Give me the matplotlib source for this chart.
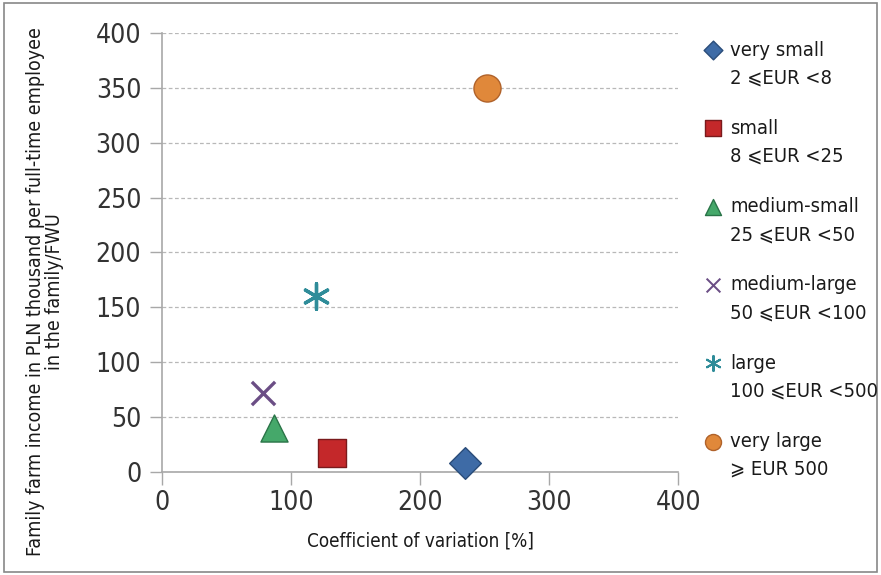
import matplotlib
matplotlib.use('Agg')
import matplotlib.pyplot as plt
from matplotlib.patches import Rectangle

plt.rcParams['font.family'] = ['DejaVu Sans']
plt.rcParams['font.stretch'] = 'condensed'

# data
names = ['very small', 'small', 'medium-small', 'medium-large', 'large', 'very large']
ranges = ['2 \u2a7dEUR <8', '8 \u2a7dEUR <25', '25 \u2a7dEUR <50', '50 \u2a7dEUR <100',
          '100 \u2a7dEUR <500', '\u2a7e EUR 500']
cv = [235, 132, 87, 78, 119, 252]
income = [8, 17, 40, 72, 160, 350]
markers = ['D', 's', '^', 'x', (6, 2, 0), 'o']
colors = ['#3e6ba6', '#c4282a', '#45a86a', '#6b4e85', '#2f8c99', '#e0883a']
edges = ['#2a4d7a', '#7a1a1c', '#2a7448', '#6b4e85', '#2f8c99', '#b0622a']
sizes = [260, 380, 380, 280, 340, 380]


def draw_marker(a, x, y, i, scale=1.0):
    if markers[i] in ('x', (6, 2, 0)):
        a.scatter(x, y, marker=markers[i], s=sizes[i] * scale, c=colors[i],
                  linewidths=2.4 * max(scale, 0.6), zorder=3, clip_on=False)
    else:
        a.scatter(x, y, marker=markers[i], s=sizes[i] * scale, c=colors[i],
                  edgecolors=edges[i], linewidths=1.0, zorder=3, clip_on=False)


fig = plt.figure(figsize=(8.81, 5.75), dpi=100)
ax = fig.add_axes([0.184, 0.179, 0.586, 0.764])

for i in range(len(cv)):
    draw_marker(ax, cv[i], income[i], i)

ax.set_xlim(0, 400)
ax.set_ylim(0, 400)
ax.set_xticks([0, 100, 200, 300, 400])
ax.set_yticks(range(0, 401, 50))
ax.grid(axis='y', linestyle=(0, (3, 2)), color='#b8b8b8', linewidth=0.9)
for s in ['top', 'right']:
    ax.spines[s].set_visible(False)
for s in ['left', 'bottom']:
    ax.spines[s].set_color('#a8a8a8')
    ax.spines[s].set_linewidth(1.2)
ax.tick_params(axis='both', colors='#a8a8a8', length=9, width=1.0, labelsize=19,
               labelcolor='#333333')
ax.tick_params(axis='y', pad=6)
ax.tick_params(axis='x', pad=4)
ax.set_xlabel('Coefficient of variation [%]', fontsize=13.5, color='#1a1a1a', labelpad=11)
ax.set_ylabel('Family farm income in PLN thousand per full-time employee\nin the family/FWU',
              fontsize=14, color='#1a1a1a', linespacing=1.0)
ax.yaxis.set_label_coords(-0.19, 0.41)

# legend drawn by hand so that the marker sits on the first line
lg = fig.add_axes([0, 0, 1, 1], zorder=5)
lg.set_xlim(0, 881)
lg.set_ylim(575, 0)
lg.axis('off')
for i in range(len(names)):
    y0 = 50 + 78.3 * i
    draw_marker(lg, 713, y0, i, scale=0.35)
    lg.text(730, y0, names[i], fontsize=14.5, va='center', ha='left', color='#1a1a1a')
    lg.text(730, y0 + 28, ranges[i], fontsize=14.5, va='center', ha='left', color='#1a1a1a')

fig.patches.append(Rectangle((0.005, 0.006), 0.99, 0.988, transform=fig.transFigure,
                             fill=False, edgecolor='#888888', linewidth=1.2))

fig.savefig('out.png', dpi=100)
